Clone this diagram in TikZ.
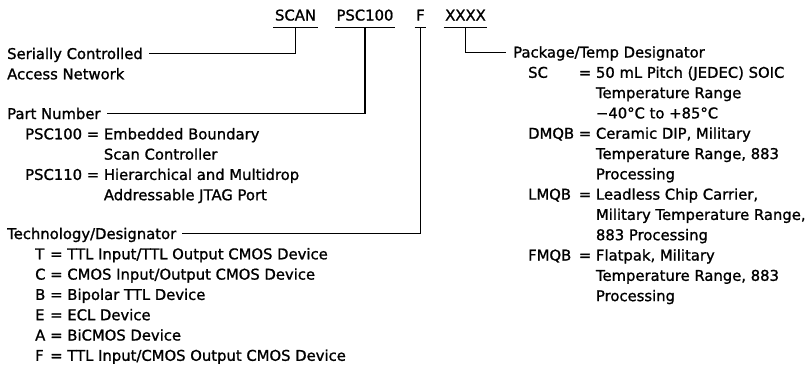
\documentclass[tikz,border=0pt]{standalone}
\usepackage{fontspec}
\setmainfont{DejaVu Sans}[FakeBold=1.2]
\usepackage{tikz}
\usetikzlibrary{positioning,calc}
\newcommand{\diagfont}{\fontsize{14.8}{20.3}\selectfont}
\tikzset{
  codehdr/.style={anchor=base,inner xsep=1.5pt,inner ysep=6.5pt,text depth=0pt,font=\diagfont},
  codelbl/.style={anchor=base west,inner sep=0pt,font=\diagfont},
  codelead/.style={draw=black,line width=1.3pt}
}

\begin{document}
\begin{tikzpicture}[x=1pt,y=-1pt]
  \useasboundingbox (0,0) rectangle (807,370);
  % part number fields
  \node[codehdr] (scanhdr) at (295.5,20.5) {SCAN};
  \node[codehdr] (pschdr) at (365,20.5) {PSC100};
  \node[codehdr] (techhdr) at (420.5,20.5) {F};
  \node[codehdr] (pkghdr) at (465.5,20.5) {XXXX};
  \draw[codelead] (scanhdr.south west) -- (scanhdr.south east);
  \draw[codelead] (pschdr.south west) -- (pschdr.south east);
  \draw[codelead] (techhdr.south west) -- (techhdr.south east);
  \draw[codelead] (pkghdr.south west) -- (pkghdr.south east);
  % left side
  \node[codelbl] (serial) at (7,59) {Serially Controlled};
  \node[codelbl] (seracc) at ([yshift=-20.3pt]serial.base west) {Access Network};
  \node[codelbl] (part) at (7,119) {Part Number};
  \node[codelbl] (partlist) at ([xshift=18pt,yshift=-20.3pt]part.base west) {\begin{tabular}[t]{@{}l@{ }l@{ }l@{}}
    PSC100 & = & Embedded Boundary\\
           &   & Scan Controller\\
    PSC110 & = & Hierarchical and Multidrop\\
           &   & Addressable JTAG Port
  \end{tabular}};
  \node[codelbl] (tech) at (7,239) {Technology/Designator};
  \node[codelbl] (techlist) at ([xshift=28pt,yshift=-20.3pt]tech.base west) {\begin{tabular}[t]{@{}l@{ }l@{ }l@{}}
    T & = & TTL Input/TTL Output CMOS Device\\
    C & = & CMOS Input/Output CMOS Device\\
    B & = & Bipolar TTL Device\\
    E & = & ECL Device\\
    A & = & BiCMOS Device\\
    F & = & TTL Input/CMOS Output CMOS Device
  \end{tabular}};
  % right side
  \node[codelbl] (pkg) at (513,57.5) {Package/Temp Designator};
  \node[codelbl] (pkglist) at ([xshift=15pt,yshift=-20.3pt]pkg.base west) {\begin{tabular}[t]{@{}l@{ }l@{ }l@{}}
    SC   & = & 50 mL Pitch (JEDEC) SOIC\\
         &   & Temperature Range\\
         &   & −40°C to +85°C\\
    DMQB & = & Ceramic DIP, Military\\
         &   & Temperature Range, 883\\
         &   & Processing\\
    LMQB & = & Leadless Chip Carrier,\\
         &   & Military Temperature Range,\\
         &   & 883 Processing\\
    FMQB & = & Flatpak, Military\\
         &   & Temperature Range, 883\\
         &   & Processing
  \end{tabular}};
  % leaders
  \draw[codelead] (scanhdr.south) |- ([xshift=6pt,yshift=5.3pt]serial.base east);
  \draw[codelead] (pschdr.south) |- ([xshift=6pt,yshift=5.3pt]part.base east);
  \draw[codelead] (techhdr.south) |- ([xshift=6pt,yshift=5.3pt]tech.base east);
  \draw[codelead] (pkghdr.south) |- ([xshift=-7pt,yshift=5.3pt]pkg.base west);
\end{tikzpicture}
\end{document}
